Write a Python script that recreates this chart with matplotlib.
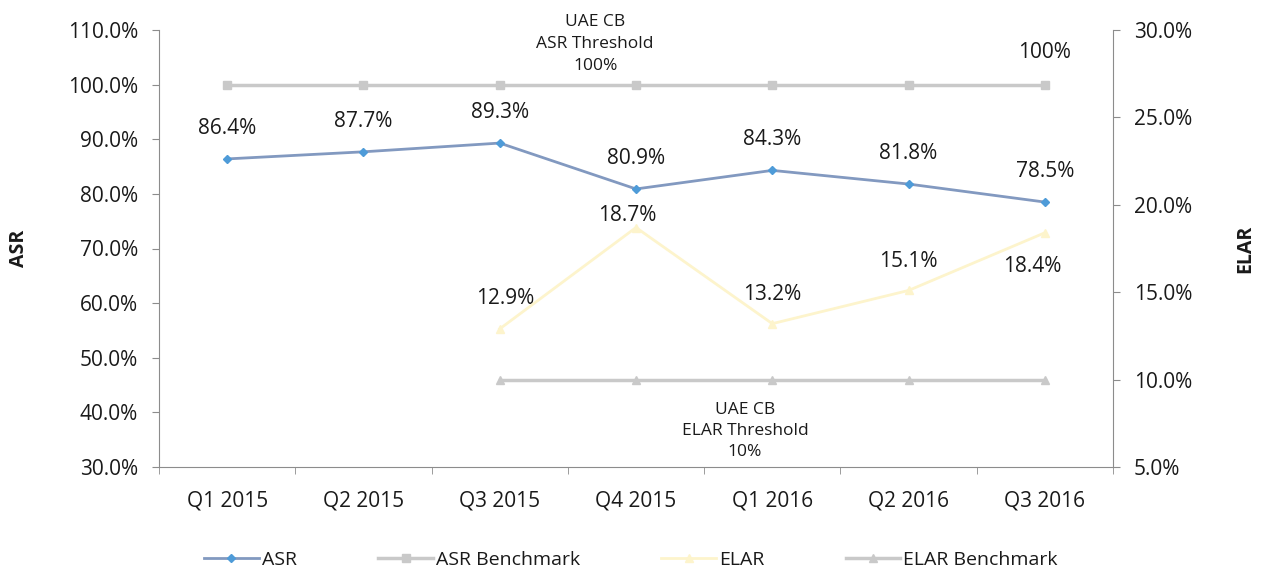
import matplotlib
matplotlib.use("Agg")
import matplotlib.pyplot as plt
import numpy as np

categories = ["Q1 2015", "Q2 2015", "Q3 2015", "Q4 2015", "Q1 2016", "Q2 2016", "Q3 2016"]
asr = [86.4, 87.7, 89.3, 80.9, 84.3, 81.8, 78.5]
asr_benchmark = [100, 100, 100, 100, 100, 100, 100]
elar = [np.nan, np.nan, 12.9, 18.7, 13.2, 15.1, 18.4]
elar_benchmark = [np.nan, np.nan, 10, 10, 10, 10, 10]

plt.rcParams['font.family'] = ['Open Sans', 'DejaVu Sans']
fig = plt.figure(figsize=(12.62, 5.74), dpi=100)
ax = fig.add_axes([159/1262, 1-467/574, (1113-159)/1262, (467-30)/574])
ax2 = ax.twinx()

x = np.arange(len(categories))
spine_c = "#8c8c8c"
txt_c = "#1a1a1a"
l1, = ax.plot(x, asr, color="#8299c0", lw=2, marker="D", ms=4, mfc="#4e9bd8", mec="#4e9bd8", label="ASR", zorder=5)
l2, = ax.plot(x, asr_benchmark, color="#c9c9c9", lw=2.5, marker="s", ms=6, label="ASR Benchmark", zorder=4)
l3, = ax2.plot(x, elar, color="#fdf4cc", lw=2, marker="^", ms=6, label="ELAR", zorder=5)
l4, = ax2.plot(x, elar_benchmark, color="#c9c9c9", lw=2.5, marker="^", ms=6, label="ELAR Benchmark", zorder=4)

fs = 15
ax.set_xlim(-0.5, len(categories) - 0.5)
ax.set_ylim(30, 110)
ax2.set_ylim(5, 30)
ax.set_yticks(np.arange(30, 111, 10))
ax.set_yticklabels([f"{v:.1f}%" for v in np.arange(30, 111, 10)])
ax2.set_yticks(np.arange(5, 31, 5))
ax2.set_yticklabels([f"{v:.1f}%" for v in np.arange(5, 31, 5)])
ax.set_xticks(x)
ax.set_xticklabels(categories)
ax.set_xticks(np.arange(-0.5, len(categories), 1), minor=True)
ax.tick_params(axis="x", which="major", length=0, pad=17, labelsize=fs, labelcolor=txt_c)
ax.tick_params(axis="x", which="minor", length=5, color=spine_c, direction="out")
ax.tick_params(axis="y", length=5, color=spine_c, labelsize=fs, pad=10, labelcolor=txt_c)
ax2.tick_params(axis="y", length=5, color=spine_c, labelsize=fs, pad=10, labelcolor=txt_c)

for a in (ax, ax2):
    a.spines["top"].set_visible(False)
    for s in ("left", "right", "bottom"):
        a.spines[s].set_color(spine_c)
ax2.spines["left"].set_visible(False)
ax2.spines["bottom"].set_visible(False)
ax.spines["right"].set_visible(False)

ax.set_ylabel("ASR", fontsize=14, fontweight="bold", color=txt_c)
ax2.set_ylabel("ELAR", fontsize=14, fontweight="bold", color=txt_c)
ax.yaxis.set_label_coords(-0.136, 0.5)
ax2.yaxis.set_label_coords(1.128, 0.5)

for i, v in enumerate(asr):
    ax.annotate(f"{v:.1f}%", (x[i], v), xytext=(0, 22), textcoords="offset points",
                ha="center", va="center", fontsize=fs, color=txt_c)
elar_offsets = {2: (4, 22), 3: (-6, 9), 4: (0, 21), 5: (0, 21), 6: (-9, -24)}
for i, v in enumerate(elar):
    if np.isnan(v):
        continue
    dx, dy = elar_offsets[i]
    ax2.annotate(f"{v:.1f}%", (x[i], v), xytext=(dx, dy), textcoords="offset points",
                 ha="center", va="center", fontsize=fs, color=txt_c)

ax.annotate("UAE CB\nASR Threshold\n100%", (2.7, 100), xytext=(0, 29.5), textcoords="offset points",
            ha="center", va="center", fontsize=12.5, color=txt_c, linespacing=1.5)
ax.annotate("100%", (6, 100), xytext=(0, 23), textcoords="offset points",
            ha="center", va="center", fontsize=fs, color=txt_c)
ax2.annotate("UAE CB\nELAR Threshold\n10%", (3.8, 10), xytext=(0, -37), textcoords="offset points",
             ha="center", va="center", fontsize=12.5, color=txt_c, linespacing=1.45)

fig.legend(handles=[l1, l2, l3, l4], loc="center", bbox_to_anchor=(0.5, 1-560/574), ncol=4,
           frameon=False, fontsize=14, handlelength=2.8, columnspacing=4.2, handletextpad=0.15,
           labelcolor=txt_c)

fig.savefig("out.png", dpi=100)
